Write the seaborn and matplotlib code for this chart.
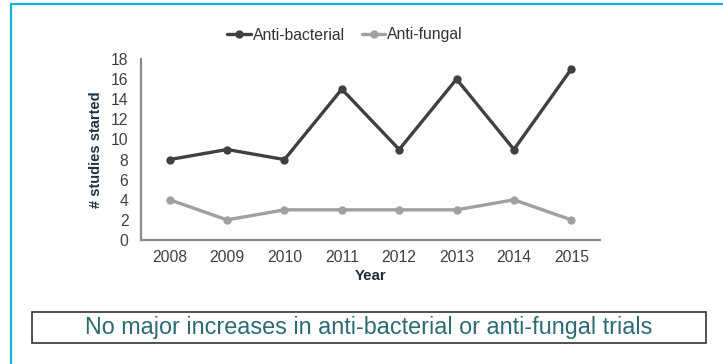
import matplotlib
matplotlib.use("Agg")
import matplotlib.pyplot as plt
from matplotlib.lines import Line2D
from matplotlib.patches import Rectangle
import seaborn as sns
import pandas as pd

years = ["2008", "2009", "2010", "2011", "2012", "2013", "2014", "2015"]
anti_bacterial = [8, 9, 8, 15, 9, 16, 9, 17]
anti_fungal = [4, 2, 3, 3, 3, 3, 4, 2]
series_names = ["Anti-bacterial", "Anti-fungal"]
y_ticks = [0, 2, 4, 6, 8, 10, 12, 14, 16, 18]
caption = "No major increases in anti-bacterial or anti-fungal trials"

df = pd.DataFrame({
    "Year": years * 2,
    "Studies": anti_bacterial + anti_fungal,
    "Series": [series_names[0]] * len(years) + [series_names[1]] * len(years),
})

sns.set_theme(style="white")
plt.rcParams["font.family"] = ["Liberation Sans", "DejaVu Sans"]

W, H = 723, 364
fig = plt.figure(figsize=(W / 100, H / 100), dpi=100)
fig.patch.set_facecolor("white")
ax = fig.add_axes([141 / W, 1 - 240 / H, (600 - 141) / W, (240 - 59) / H])

palette = {series_names[0]: "#404040", series_names[1]: "#a0a0a0"}
sns.lineplot(data=df, x="Year", y="Studies", hue="Series", palette=palette,
             marker="o", markersize=6, markeredgewidth=0, linewidth=2.4,
             ax=ax, sort=False)

ax.set_xlim(-0.5, len(years) - 0.5)
ax.set_ylim(0, 18)
ax.set_yticks(y_ticks)
ax.tick_params(axis="both", length=0, labelsize=11.3, colors="#404040")
ax.tick_params(axis="y", pad=9)
ax.tick_params(axis="x", pad=7)

for side in ["top", "right"]:
    ax.spines[side].set_visible(False)
for side in ["left", "bottom"]:
    ax.spines[side].set_color("#8a8a8a")
    ax.spines[side].set_linewidth(1.6)

ax.set_xlabel("Year", fontsize=10.8, fontweight="bold", color="#1e2f3a", labelpad=3)
ax.set_ylabel("# studies started", fontsize=10.5, fontweight="bold", color="#1e3446", labelpad=6)

handles, labels = ax.get_legend_handles_labels()
ax.legend(handles, labels, loc="center", bbox_to_anchor=(345 / W, 1 - 35 / H),
          bbox_transform=fig.transFigure, ncol=2, frameon=False, fontsize=11.3,
          handlelength=1.5, handletextpad=0.1, columnspacing=1.1,
          labelcolor="#333333")

# caption box
fig.add_artist(Rectangle((32 / W, 1 - 343 / H), (706 - 32) / W, (343 - 312) / H,
                         transform=fig.transFigure, facecolor="white",
                         edgecolor="#333333", linewidth=1.2))
fig.text(369 / W, 1 - 327.5 / H, caption, ha="center", va="center",
         fontsize=16.8, color="#2c6b74")

# cyan frame on left and top
frame_c = "#14b4d8"
fig.add_artist(Line2D([11 / W, 11 / W], [0, 1 - 4 / H], transform=fig.transFigure,
                      color=frame_c, linewidth=1.6))
fig.add_artist(Line2D([11 / W, 1], [1 - 4 / H, 1 - 4 / H], transform=fig.transFigure,
                      color=frame_c, linewidth=1.6))

fig.savefig("out.png", dpi=100)
